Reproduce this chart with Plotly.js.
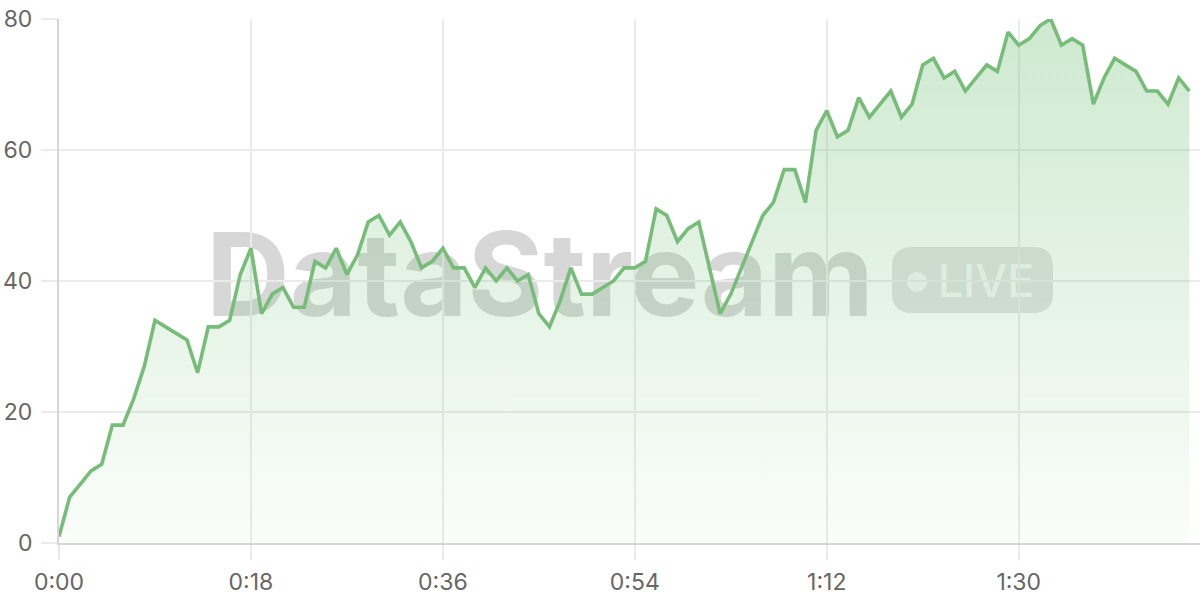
<!DOCTYPE html>
<html>
<head>
<meta charset="utf-8">
<script src="https://cdn.plot.ly/plotly-3.0.1.min.js"></script>
<style>
html,body{margin:0;padding:0;background:#fff;}
#chart{width:1200px;height:600px;}
</style>
</head>
<body>
<div id="chart"></div>
<script>
// ---- data (one reading per second) ----
const values = [1, 7, 9, 11, 12, 18, 18, 22, 27, 34,
  33, 32, 31, 26, 33, 33, 34, 41, 45, 35,
  38, 39, 36, 36, 43, 42, 45, 41, 44, 49,
  50, 47, 49, 46, 42, 43, 45, 42, 42, 39,
  42, 40, 42, 40, 41, 35, 33, 37, 42, 38,
  38, 39, 40, 42, 42, 43, 51, 50, 46, 48,
  49, 42, 35, 38, 42, 46, 50, 52, 57, 57,
  52, 63, 66, 62, 63, 68, 65, 67, 69, 65,
  67, 73, 74, 71, 72, 69, 71, 73, 72, 78,
  76, 77, 79, 80, 76, 77, 76, 67, 71, 74,
  73, 72, 69, 69, 67, 71, 69];
const seconds = values.map((v, i) => i);

const xTickVals = [0, 18, 36, 54, 72, 90];
const xTickText = ['0:00', '0:18', '0:36', '0:54', '1:12', '1:30'];
const yTickVals = [0, 20, 40, 60, 80];
const yTickText = ['0', '20', '40', '60', '80'];

const watermarkText = 'DataStream';
const liveText = 'LIVE';

// ---- layout helpers ----
const M = {l: 59, r: 0, t: 19, b: 57};
const W = 1200, H = 600;
const PW = W - M.l - M.r, PH = H - M.t - M.b;
const px = x => (x - M.l) / PW;
const py = y => (H - M.b - y) / PH;

const lineColor = '#77bd79';
const tickFont = {family: 'Inter, "Open Sans", sans-serif', size: 23, color: '#666666'};

const trace = {
  x: seconds,
  y: values,
  type: 'scatter',
  mode: 'lines',
  line: {color: lineColor, width: 3.6, shape: 'linear'},
  fill: 'tozeroy',
  fillgradient: {
    type: 'vertical',
    colorscale: [[0, 'rgba(102,187,106,0.03)'], [1, 'rgba(102,187,106,0.32)']]
  },
  hoverinfo: 'skip'
};

const pillPath = 'M -60.5 -33 L 60.5 -33 Q 80.5 -33 80.5 -13 L 80.5 13 Q 80.5 33 60.5 33 L -60.5 33 Q -80.5 33 -80.5 13 L -80.5 -13 Q -80.5 -33 -60.5 -33 Z';

const shapes = [
  {
    type: 'rect', xref: 'paper', yref: 'paper', layer: 'below',
    x0: px(190), x1: px(890), y0: py(328), y1: py(211),
    line: {width: 0}, fillcolor: 'rgba(0,0,0,0)',
    label: {text: watermarkText, textposition: 'middle center',
      font: {family: 'Inter, "Liberation Sans", sans-serif', size: 116, weight: 700, color: 'rgba(0,0,0,0.155)'}}
  },
  {
    type: 'path', xref: 'paper', yref: 'paper', layer: 'below',
    xsizemode: 'pixel', ysizemode: 'pixel',
    xanchor: px(972.5), yanchor: py(280),
    path: pillPath,
    line: {width: 0}, fillcolor: 'rgba(0,0,0,0.11)'
  },
  {
    type: 'circle', xref: 'paper', yref: 'paper', layer: 'below',
    xsizemode: 'pixel', ysizemode: 'pixel',
    xanchor: px(917), yanchor: py(282),
    x0: -10, x1: 10, y0: -10, y1: 10,
    line: {width: 0}, fillcolor: 'rgba(255,255,255,0.7)'
  },
  {
    type: 'rect', xref: 'paper', yref: 'paper', layer: 'below',
    x0: px(930), x1: px(1042), y0: py(305), y1: py(254),
    line: {width: 0}, fillcolor: 'rgba(0,0,0,0)',
    label: {text: liveText, textposition: 'middle center',
      font: {family: 'Inter, "Liberation Sans", sans-serif', size: 45, weight: 500, color: 'rgba(255,255,255,0.75)'}}
  }
];

const layout = {
  width: W, height: H,
  margin: M,
  paper_bgcolor: '#ffffff',
  plot_bgcolor: '#ffffff',
  showlegend: false,
  xaxis: {
    range: [0, 107],
    tickmode: 'array', tickvals: xTickVals, ticktext: xTickText,
    showgrid: true, gridcolor: '#ebebeb', gridwidth: 2,
    showline: true, linecolor: '#d6d6d6', linewidth: 2,
    ticks: 'outside', ticklen: 15, tickwidth: 2, tickcolor: '#ebebeb',
    ticklabelstandoff: 2,
    tickfont: tickFont, zeroline: false, fixedrange: true
  },
  yaxis: {
    range: [0, 80],
    tickmode: 'array', tickvals: yTickVals, ticktext: yTickText,
    showgrid: true, gridcolor: '#ebebeb', gridwidth: 2,
    showline: true, linecolor: '#d6d6d6', linewidth: 2,
    ticks: 'outside', ticklen: 16, tickwidth: 2, tickcolor: '#ebebeb',
    ticklabelstandoff: 4,
    tickfont: tickFont, zeroline: false, fixedrange: true
  },
  shapes: shapes
};

Plotly.newPlot('chart', [trace], layout, {staticPlot: true, displayModeBar: false});
</script>
</body>
</html>
